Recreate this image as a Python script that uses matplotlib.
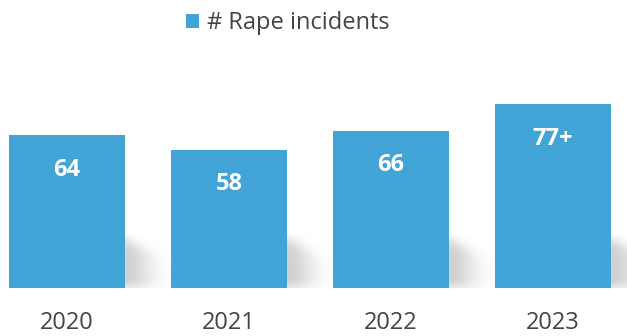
import numpy as np
import matplotlib
matplotlib.use("Agg")
import matplotlib.pyplot as plt
from matplotlib.patches import Patch

years = ["2020", "2021", "2022", "2023"]
incidents = [64, 58, 66, 77]
value_labels = ["64", "58", "66", "77+"]
series_name = "# Rape incidents"

BAR_COLOR = "#41A3D6"
TEXT_COLOR = "#444444"

plt.rcParams["font.family"] = ["Open Sans", "DejaVu Sans"]

fig = plt.figure(figsize=(6.27, 3.36), dpi=100)
fig.patch.set_facecolor("white")

# axes: baseline 48 px above the bottom edge, 2.385 px per unit
ax = fig.add_axes([0.0, 48 / 336, 1.0, 238.5 / 336])
ax.set_ylim(0, 100)
ax.set_xlim(-67 / 162, (627 - 67) / 162)
ax.axis("off")

x = np.arange(len(years))
width = 0.716

# soft grey drop shadow cast behind each bar towards the right
ny, nx = 80, 80
gy, gx = np.mgrid[0:1:complex(0, ny), 0:1:complex(0, nx)]
top_edge = 0.92 - 0.4 * gx              # slanted upper boundary
upper = 1 / (1 + np.exp((gy - top_edge) / 0.07))
lower = np.clip(gy / 0.15, 0, 1) * 0.5 + 0.5
fade = np.exp(-(gx / 0.55) ** 2)
alpha = 0.32 * upper * lower * fade
shadow = np.zeros((ny, nx, 4))
shadow[..., :3] = 0.42
shadow[..., 3] = alpha
for xi in x:
    x0 = xi + width / 2
    ax.imshow(shadow, extent=(x0, x0 + 0.29, 0, 22), origin="lower",
              aspect="auto", zorder=1, interpolation="bilinear")

bars = ax.bar(x, incidents, width=width, color=BAR_COLOR, zorder=2,
              label=series_name)

for b, txt in zip(bars, value_labels):
    ax.text(b.get_x() + b.get_width() / 2, b.get_height() - 14.5, txt,
            ha="center", va="center", color="white", fontsize=17,
            fontweight="bold", zorder=3)

for xi, yr in zip(x, years):
    ax.text(xi, -14.6, yr, ha="center", va="center", color=TEXT_COLOR,
            fontsize=17, clip_on=False)

handle = Patch(facecolor=BAR_COLOR, edgecolor="none")
fig.legend([handle], [series_name], loc="center",
           bbox_to_anchor=(288 / 627, 1 - 23 / 336), frameon=False,
           fontsize=17, handlelength=0.55, handleheight=0.55,
           handletextpad=0.35, labelcolor=TEXT_COLOR)

fig.savefig("out.png", dpi=100, facecolor="white")
